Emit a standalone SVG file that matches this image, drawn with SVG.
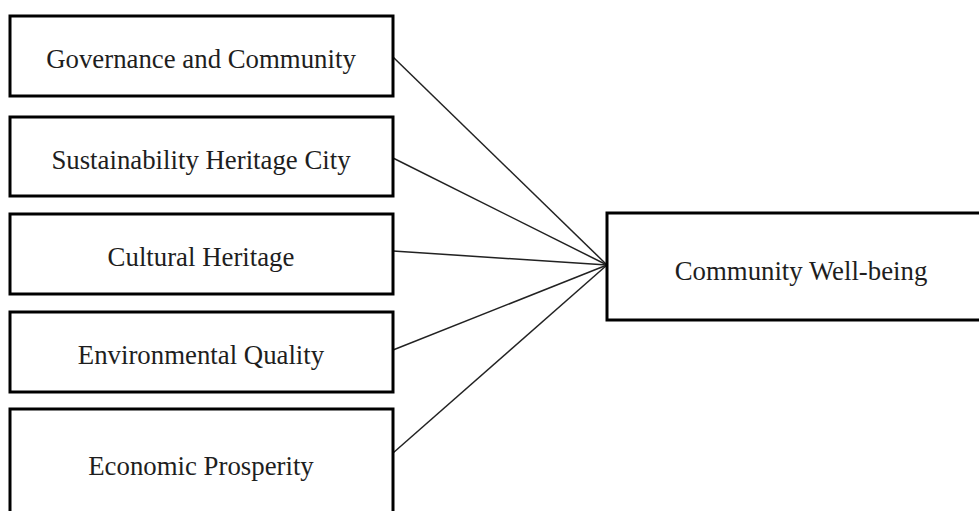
<svg xmlns="http://www.w3.org/2000/svg" width="979" height="511" viewBox="0 0 979 511">
<style>
.box{fill:#fff;stroke:#000;stroke-width:3}
.lbl{font-family:"Liberation Serif","Times New Roman",serif;font-size:26.8px;fill:#1e1e1e;text-anchor:middle}
.con{stroke:#222;stroke-width:1.5;fill:none}
</style>
<rect width="979" height="511" fill="#fff"/>
<g id="connectors">
<line class="con" x1="393" y1="57" x2="607" y2="265"/>
<line class="con" x1="393" y1="158" x2="607" y2="265"/>
<line class="con" x1="393" y1="251" x2="607" y2="265"/>
<line class="con" x1="393" y1="350" x2="607" y2="265"/>
<line class="con" x1="393" y1="453" x2="607" y2="265"/>
</g>
<g id="governance"><rect class="box" x="10" y="16" width="383" height="80"/><text class="lbl" x="201" y="68">Governance and Community</text></g>
<g id="sustainability"><rect class="box" x="10" y="117" width="383" height="79"/><text class="lbl" x="201" y="168.5">Sustainability Heritage City</text></g>
<g id="cultural"><rect class="box" x="10" y="214" width="383" height="80"/><text class="lbl" x="201" y="265.5">Cultural Heritage</text></g>
<g id="environmental"><rect class="box" x="10" y="312" width="383" height="80"/><text class="lbl" x="201" y="363.5">Environmental Quality</text></g>
<g id="economic"><rect class="box" x="10" y="409" width="383" height="110"/><text class="lbl" x="201" y="474.5">Economic Prosperity</text></g>
<g id="wellbeing"><rect class="box" x="607" y="213" width="380" height="107"/><text class="lbl" x="801" y="279.5">Community Well-being</text></g>
</svg>
